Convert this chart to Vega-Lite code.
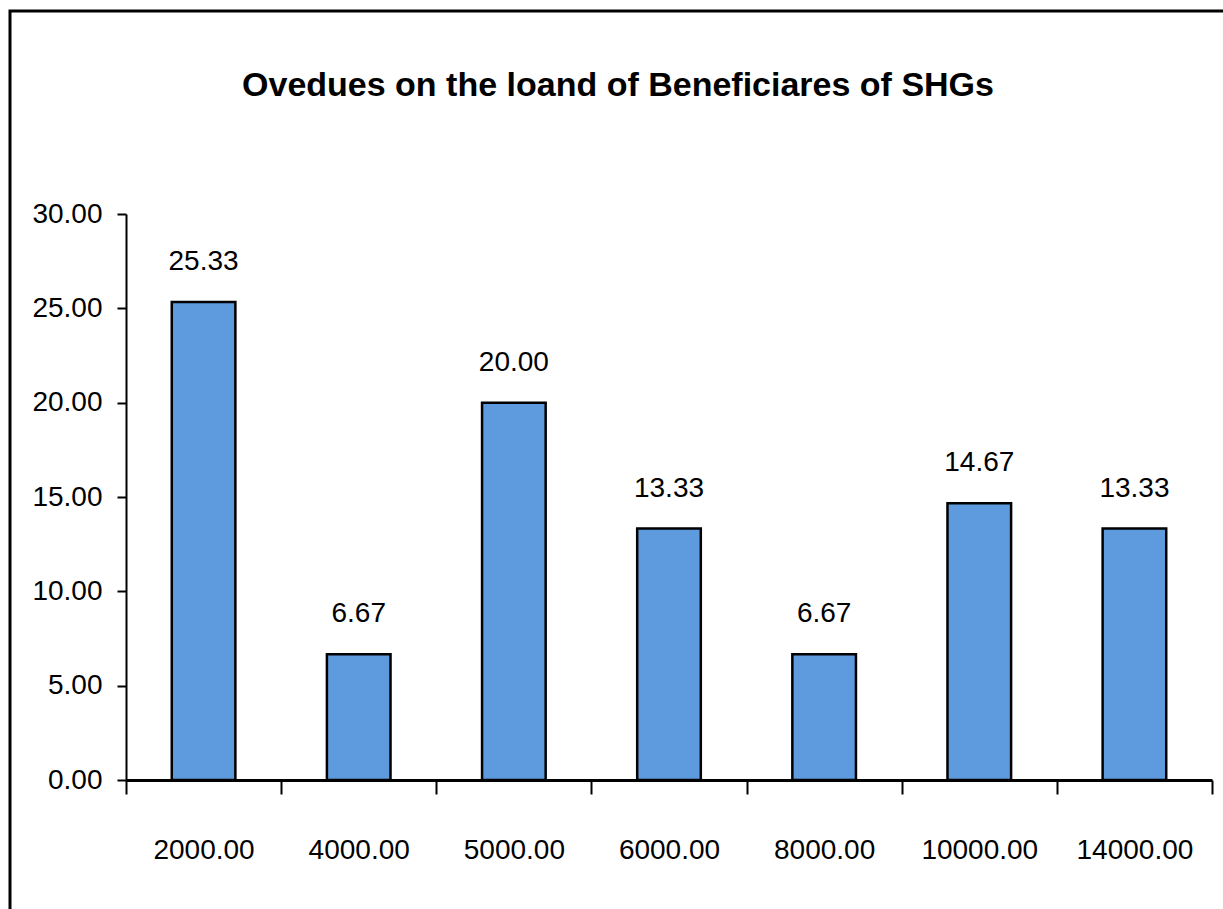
{
  "$schema": "https://vega.github.io/schema/vega-lite/v6.json",
  "autosize": "none",
  "padding": {"left": 10, "top": 11, "right": 0, "bottom": 0},
  "width": 1216,
  "height": 901,
  "background": "white",
  "config": {
    "view": {"stroke": "black", "strokeWidth": 3},
    "font": "Liberation Sans"
  },
  "title": {
    "text": "Ovedues on the loand of Beneficiares of SHGs",
    "font": "Liberation Sans",
    "fontWeight": "bold",
    "fontSize": 34,
    "color": "black",
    "anchor": "middle",
    "frame": "group",
    "baseline": "alphabetic",
    "offset": -119
  },
  "data": {
    "values": [
      {"loan": "2000.00", "overdue": 25.33},
      {"loan": "4000.00", "overdue": 6.67},
      {"loan": "5000.00", "overdue": 20.0},
      {"loan": "6000.00", "overdue": 13.33},
      {"loan": "8000.00", "overdue": 6.67},
      {"loan": "10000.00", "overdue": 14.67},
      {"loan": "14000.00", "overdue": 13.33}
    ]
  },
  "encoding": {
    "x": {
      "field": "loan",
      "type": "nominal",
      "sort": null,
      "scale": {"range": [116, 1202], "paddingInner": 0, "paddingOuter": 0},
      "axis": {
        "orient": "bottom",
        "offset": -132,
        "title": null,
        "tickBand": "extent",
        "tickSize": 14,
        "tickWidth": 2,
        "tickColor": "black",
        "domainWidth": 3,
        "domainColor": "black",
        "labelAngle": 0,
        "labelBaseline": "alphabetic",
        "labelPadding": 64,
        "labelFontSize": 28,
        "labelFont": "Liberation Sans",
        "labelColor": "black",
        "labelOverlap": false
      }
    },
    "y": {
      "field": "overdue",
      "type": "quantitative",
      "scale": {"domain": [0, 30], "range": [769, 203], "nice": false},
      "axis": {
        "orient": "left",
        "offset": -116,
        "title": null,
        "grid": false,
        "values": [0, 5, 10, 15, 20, 25, 30],
        "format": ".2f",
        "tickSize": 9,
        "tickWidth": 2,
        "tickColor": "black",
        "domainWidth": 2,
        "domainColor": "black",
        "labelPadding": 15,
        "labelFontSize": 28,
        "labelFont": "Liberation Sans",
        "labelColor": "black"
      }
    }
  },
  "layer": [
    {
      "mark": {
        "type": "bar",
        "width": {"band": 0.41},
        "fill": "#5d9bde",
        "stroke": "black",
        "strokeWidth": 2.5
      }
    },
    {
      "mark": {
        "type": "text",
        "baseline": "alphabetic",
        "dy": -32,
        "fontSize": 28,
        "font": "Liberation Sans",
        "color": "black"
      },
      "encoding": {"text": {"field": "overdue", "type": "quantitative", "format": ".2f"}}
    }
  ]
}
